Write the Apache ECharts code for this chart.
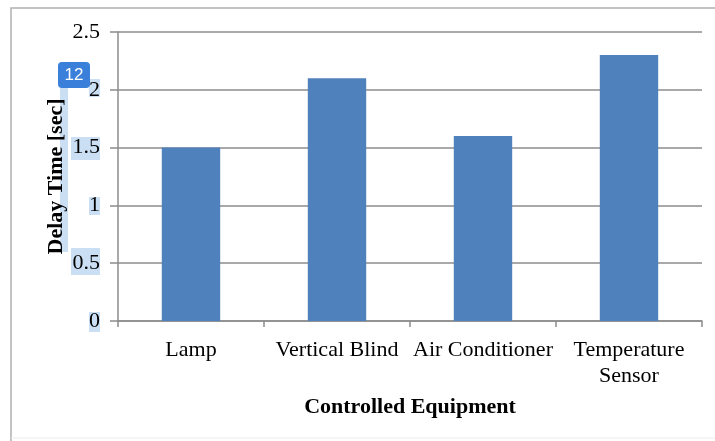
<!DOCTYPE html>
<html lang="en">
<head>
    <meta charset="UTF-8">
    <title>Delay Time</title>
    <script src="https://cdn.jsdelivr.net/npm/echarts@6/dist/echarts.min.js"></script>
    <style type="text/css">
        html, body { margin: 0; padding: 0; background: #fff; }
        #main { width: 715px; height: 441px; }
    </style>
</head>
<body>
<div id="main"></div>
<script type="text/javascript">
    var equipment = ['Lamp', 'Vertical Blind', 'Air Conditioner', 'Temperature\nSensor'];
    var delayTime = [1.5, 2.1, 1.6, 2.3];

    var chart = echarts.init(document.getElementById('main'));
    var serif = '"Liberation Serif", "DejaVu Serif", serif';
    var hl = 'rgba(160,196,235,0.55)';

    chart.setOption({
        animation: false,
        grid: { left: 118, right: 13, top: 32, bottom: 120 },
        xAxis: {
            type: 'category',
            data: equipment,
            name: 'Controlled Equipment',
            nameLocation: 'middle',
            nameGap: 75,
            nameMoveOverlap: false,
            nameTextStyle: { fontFamily: serif, fontSize: 22, fontWeight: 'bold', color: '#000' },
            axisLine: { lineStyle: { color: '#8c8c8c', width: 1.5 } },
            axisTick: { show: true, length: 6, lineStyle: { color: '#8c8c8c', width: 1.5 } },
            axisLabel: { fontFamily: serif, fontSize: 22, color: '#000', margin: 16, lineHeight: 26, interval: 0 }
        },
        yAxis: {
            type: 'value',
            min: 0,
            max: 2.5,
            interval: 0.5,
            name: 'Delay Time [sec]',
            nameLocation: 'middle',
            nameGap: 51,
            nameMoveOverlap: false,
            nameTextStyle: { fontFamily: serif, fontSize: 22, fontWeight: 'bold', color: '#000' },
            axisLine: { show: true, lineStyle: { color: '#8c8c8c', width: 1.5 } },
            axisTick: { show: true, length: 8, lineStyle: { color: '#8c8c8c', width: 1.5 } },
            axisLabel: { fontFamily: serif, fontSize: 22, color: '#000', margin: 18 },
            splitLine: { lineStyle: { color: '#8c8c8c', width: 1.5 } }
        },
        series: [{
            type: 'bar',
            data: delayTime,
            barWidth: '40%',
            itemStyle: { color: '#4f81bd' }
        }],
        graphic: [
            // outer frame
            { type: 'polyline', shape: { points: [[11, 441], [11, 8], [715, 8]] }, style: { stroke: '#b0b0b0', lineWidth: 1.5, fill: null } },
            { type: 'line', shape: { x1: 11, y1: 438, x2: 715, y2: 438 }, style: { stroke: '#ececec', lineWidth: 1 } },
            // selection highlight leftovers
            { type: 'rect', shape: { x: 60, y: 78, width: 8, height: 174 }, style: { fill: hl }, z: -1 },
            { type: 'rect', shape: { x: 89, y: 79, width: 11, height: 18 }, style: { fill: hl }, z: -1 },
            { type: 'rect', shape: { x: 71, y: 137, width: 29, height: 23 }, style: { fill: hl }, z: -1 },
            { type: 'rect', shape: { x: 89, y: 197, width: 11, height: 18 }, style: { fill: hl }, z: -1 },
            { type: 'rect', shape: { x: 71, y: 248, width: 29, height: 27 }, style: { fill: hl }, z: -1 },
            { type: 'rect', shape: { x: 89, y: 312, width: 11, height: 20 }, style: { fill: hl }, z: -1 },
            { type: 'rect', shape: { x: 58, y: 62, width: 32, height: 26, r: 4 }, style: { fill: '#3a7fd9' }, z: 10 },
            { type: 'text', x: 74, y: 75, style: { text: '12', fill: '#fff', font: '17px "Liberation Sans", sans-serif', textAlign: 'center', textVerticalAlign: 'middle' }, z: 11 }
        ]
    });
</script>
</body>
</html>
